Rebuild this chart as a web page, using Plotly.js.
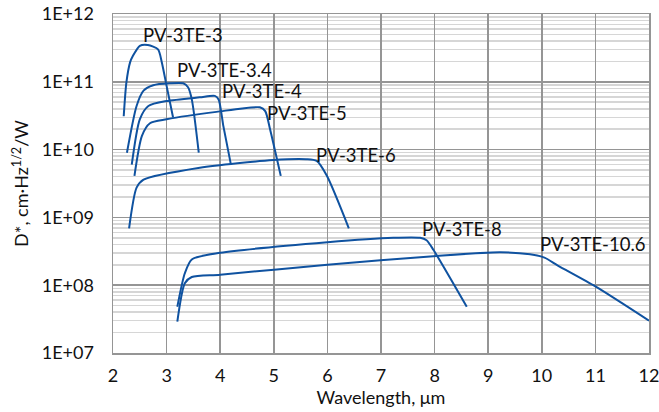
<!DOCTYPE html>
<html><head><meta charset="utf-8">
<script src="https://cdn.plot.ly/plotly-3.0.1.min.js"></script>
<style>html,body{margin:0;padding:0;background:#fff}#chart{width:659px;height:412px}</style>
</head><body><div id="chart"></div>
<script>
const names = ["PV-3TE-3","PV-3TE-3.4","PV-3TE-4","PV-3TE-5","PV-3TE-6","PV-3TE-8","PV-3TE-10.6"];
const x3   = [2.2,2.25,2.32,2.37,2.5,2.65,2.84,2.91,3.0,3.12];
const y3   = [3.1e10,9.8e10,1.95e11,2.4e11,3.4e11,3.5e11,3.0e11,1.95e11,8.7e10,3.0e10];
const x34  = [2.26,2.44,2.57,2.75,3.06,3.31,3.4,3.47,3.6];
const y34  = [9e9,4.4e10,7.4e10,8.9e10,9.5e10,9.5e10,8.3e10,5.5e10,9e9];
const x4   = [2.35,2.5,2.66,3.0,3.62,3.9,3.97,4.06,4.2];
const y4   = [6e9,2.8e10,4.4e10,5.2e10,5.9e10,6.2e10,5.5e10,2.2e10,6e9];
const x5   = [2.4,2.54,2.69,3.0,3.93,4.74,4.84,4.93,5.13];
const y5   = [4.1e9,1.6e10,2.45e10,2.8e10,3.6e10,4.2e10,3.7e10,2.0e10,4.1e9];
const x6   = [2.3,2.44,2.57,3.62,4.99,5.6,5.8,5.99,6.4];
const y6   = [6.9e8,2.75e9,3.6e9,5.4e9,7.0e9,7.2e9,6.8e9,4.1e9,6.9e8];
const x8   = [3.2,3.34,3.47,4.0,6.0,7.23,7.73,7.85,7.98,8.6];
const y8   = [4.8e7,1.5e8,2.4e8,3.0e8,4.3e8,5.0e8,5.0e8,4.6e8,3.3e8,4.8e7];
const x106 = [3.2,3.34,3.47,4.0,6.0,8.04,9.22,9.78,10.05,10.3,11.0,12.0];
const y106 = [2.9e7,1.07e8,1.32e8,1.43e8,2.0e8,2.7e8,3.05e8,2.85e8,2.55e8,1.95e8,9.6e7,3.0e7];
const xs = [x3,x34,x4,x5,x6,x8,x106];
const ys = [y3,y34,y4,y5,y6,y8,y106];
// label anchor positions (data units)
const labelX = [2.52,3.16,4.0,4.84,5.75,7.73,9.93];
const labelY = [4.9e11,1.5e11,7.2e10,3.45e10,8.2e9,6.8e8,4.0e8];

const xTicks = [2,3,4,5,6,7,8,9,10,11,12];
const yTicks = [1e7,1e8,1e9,1e10,1e11,1e12];
const yTickText = ["1E+07","1E+08","1E+09","1E+10","1E+11","1E+12"];

const minorVals = [];
for (let e = 7; e < 12; e++) for (let m = 2; m <= 9; m++) minorVals.push(m * Math.pow(10, e));

const color = "#0f52a0";
const traces = xs.map((x, i) => ({
  x: x, y: ys[i], name: names[i], type: "scatter", mode: "lines",
  line: {color: color, width: 2, shape: "spline", smoothing: 0.7},
  hoverinfo: "none"
}));
const fam = "Lato, 'Open Sans', sans-serif";
const txt = "#111";
const annotations = names.map((n, i) => ({
  x: labelX[i], y: Math.log10(labelY[i]), xref: "x", yref: "y",
  text: n, showarrow: false, xanchor: "left", yanchor: "middle",
  font: {family: fam, size: 18.5, color: txt}
}));
const layout = {
  width: 659, height: 412,
  margin: {l: 113, r: 10, t: 14, b: 59},
  paper_bgcolor: "#fff", plot_bgcolor: "#fff",
  showlegend: false, font: {family: fam, size: 18, color: txt},
  annotations: annotations,
  xaxis: {
    range: [2, 12], tickvals: xTicks, ticktext: xTicks.map(String),
    showgrid: true, gridcolor: "#959595", gridwidth: 1.5,
    zeroline: false, showline: true, linecolor: "#959595", linewidth: 1.5, mirror: true,
    ticks: "", ticklen: 0, ticklabelstandoff: 6, ticklabeloverflow: "allow",
    title: {text: "Wavelength, μm", font: {family: fam, size: 18, color: txt}, standoff: 0},
    tickfont: {family: fam, size: 18, color: txt}
  },
  yaxis: {
    type: "log", range: [7, 12], tickvals: yTicks, ticktext: yTickText,
    showgrid: true, gridcolor: "#959595", gridwidth: 1.5,
    minor: {tickvals: minorVals, showgrid: true, gridcolor: "#d6d6d6", gridwidth: 1.5, ticks: ""},
    zeroline: false, showline: true, linecolor: "#959595", linewidth: 1.5, mirror: true,
    ticks: "", ticklen: 0, ticklabelstandoff: 14, ticklabeloverflow: "allow",
    title: {text: "D*, cm·Hz<sup>1/2</sup>/W", font: {family: fam, size: 18, color: txt}, standoff: 8},
    tickfont: {family: fam, size: 18, color: txt}
  }
};
Plotly.newPlot("chart", traces, layout, {displayModeBar: false, staticPlot: true});
</script></body></html>
